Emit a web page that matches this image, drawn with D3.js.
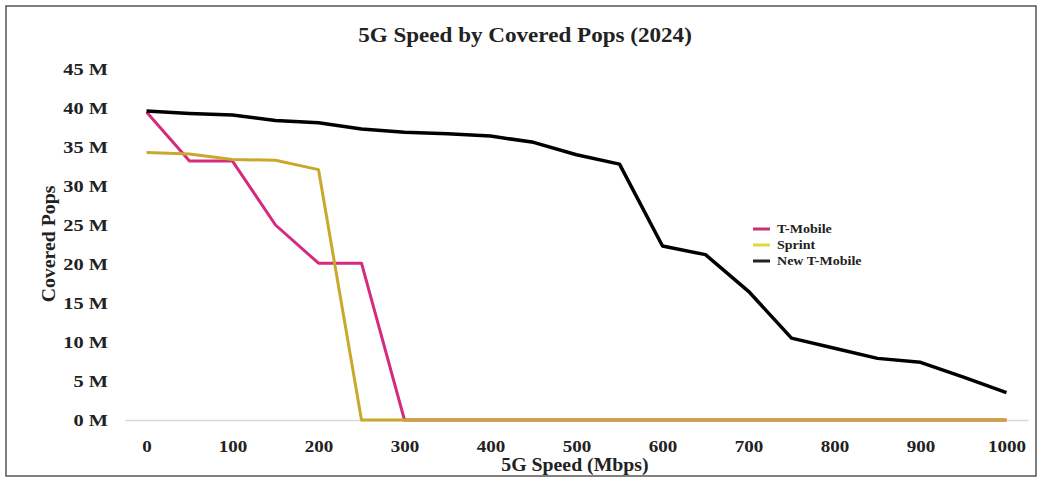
<!DOCTYPE html>
<html>
<head>
<meta charset="utf-8">
<script src="https://cdn.jsdelivr.net/npm/d3@7"></script>
<style>
  body { margin: 0; background: #fff; }
  svg { display: block; font-family: "Liberation Serif", "Times New Roman", serif; }
</style>
</head>
<body>
<svg width="1042" height="479"></svg>
<script>
// speeds in Mbps (category axis)
const speeds = [0, 50, 100, 150, 200, 250, 300, 350, 400, 450, 500,
                550, 600, 650, 700, 750, 800, 850, 900, 950, 1000];
const xTickLabels = [0, 100, 200, 300, 400, 500, 600, 700, 800, 900, 1000];
const yTicks = [0, 5, 10, 15, 20, 25, 30, 35, 40, 45];

// covered pops, millions
const tMobile = [39.5, 33.2, 33.2, 25.0, 20.1, 20.1, 0, 0, 0, 0, 0,
                 0, 0, 0, 0, 0, 0, 0, 0, 0, 0];
const sprint = [34.3, 34.1, 33.4, 33.3, 32.1, 0, 0, 0, 0, 0, 0,
                0, 0, 0, 0, 0, 0, 0, 0, 0, 0];
const newTMobile = [39.6, 39.3, 39.1, 38.4, 38.1, 37.3, 36.9, 36.7, 36.4, 35.6, 34.0,
                    32.8, 22.3, 21.2, 16.5, 10.5, 9.2, 7.9, 7.4, 5.5, 3.5];

const seriesNames = ['T-Mobile', 'Sprint', 'New T-Mobile'];
const seriesColors = ['#d62a7e', '#c9a82c', '#000000'];
const legendColors = ['#c8336f', '#e0d83c', '#222222'];

const svg = d3.select('svg');

// outer frame
svg.append('rect')
    .attr('x', 6).attr('y', 6)
    .attr('width', 1030).attr('height', 470)
    .attr('fill', 'none')
    .attr('stroke', '#555')
    .attr('stroke-width', 1.5);

const x = d3.scalePoint()
    .domain(speeds)
    .range([125, 1028])
    .padding(0.5);

const y = d3.scaleLinear()
    .domain([0, 45])
    .range([420, 69]);

// title (the source picture is a bit stretched sideways)
svg.append('text')
    .attr('transform', 'translate(525,42) scale(1.1,1)')
    .attr('text-anchor', 'middle')
    .attr('font-size', 21)
    .attr('font-weight', 'bold')
    .attr('fill', '#222')
    .text('5G Speed by Covered Pops (2024)');

// y axis labels
const yAxis = d3.axisLeft(y)
    .tickValues(yTicks)
    .tickSize(0)
    .tickPadding(0)
    .tickFormat(d => `${d} M`);

svg.append('g')
    .attr('transform', 'translate(108,0)')
    .call(yAxis)
    .call(g => g.select('.domain').remove())
    .selectAll('text')
    .attr('transform', 'scale(1.2,1)')
    .attr('font-size', 17)
    .attr('font-weight', 'bold')
    .attr('font-family', '"Liberation Serif", serif')
    .attr('fill', '#222');

// x axis
const xAxis = d3.axisBottom(x)
    .tickValues(xTickLabels)
    .tickSize(0)
    .tickPadding(20);

svg.append('g')
    .attr('transform', `translate(0,${y(0)})`)
    .call(xAxis)
    .call(g => g.select('.domain').attr('stroke', '#d9d9d9').attr('stroke-width', 1.5))
    .selectAll('text')
    .attr('transform', 'scale(1.12,1)')
    .attr('font-size', 17)
    .attr('font-weight', 'bold')
    .attr('font-family', '"Liberation Serif", serif')
    .attr('fill', '#222');

// axis titles
svg.append('text')
    .attr('transform', 'translate(55,244) rotate(-90) scale(1.1,1)')
    .attr('text-anchor', 'middle')
    .attr('font-size', 18)
    .attr('font-weight', 'bold')
    .attr('fill', '#222')
    .text('Covered Pops');

svg.append('text')
    .attr('transform', 'translate(575,471) scale(1.1,1)')
    .attr('text-anchor', 'middle')
    .attr('font-size', 18)
    .attr('font-weight', 'bold')
    .attr('fill', '#222')
    .text('5G Speed (Mbps)');

// lines
const line = d3.line()
    .x((d, i) => x(speeds[i]))
    .y(d => y(d));

[tMobile, sprint, newTMobile].forEach((vals, i) => {
    svg.append('path')
        .datum(vals)
        .attr('d', line)
        .attr('fill', 'none')
        .attr('stroke', seriesColors[i])
        .attr('stroke-width', i === 2 ? 3.5 : 3)
        .attr('stroke-linejoin', 'round');
});

// legend
const legend = svg.append('g').attr('transform', 'translate(753,229)');
seriesNames.forEach((name, i) => {
    const row = legend.append('g').attr('transform', `translate(0,${i * 16})`);
    row.append('line')
        .attr('x1', 0).attr('x2', 17)
        .attr('stroke', legendColors[i])
        .attr('stroke-width', 3);
    row.append('text')
        .attr('transform', 'translate(24,4) scale(1.08,1)')
        .attr('font-size', 13)
        .attr('font-weight', 'bold')
        .attr('fill', '#222')
        .text(name);
});
</script>
</body>
</html>
